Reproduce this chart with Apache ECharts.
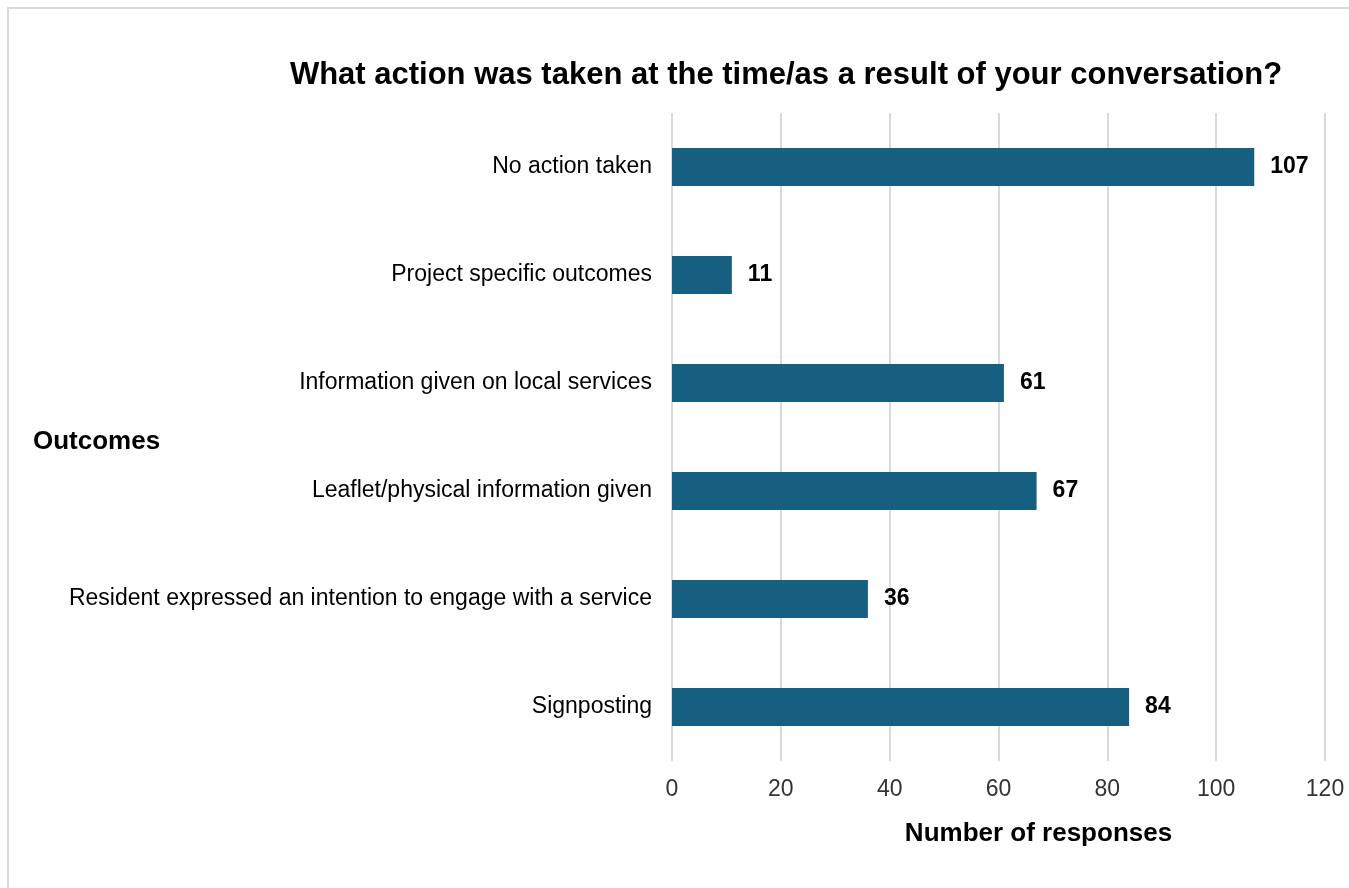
<!DOCTYPE html>
<html>
<head>
<meta charset="utf-8">
<style>
  html, body { margin: 0; padding: 0; background: #ffffff; }
  #chart { width: 1349px; height: 888px; }
</style>
<script src="https://cdn.jsdelivr.net/npm/echarts@6/dist/echarts.min.js"></script>
</head>
<body>
<div id="chart"></div>
<script>
// Outcome categories, top to bottom
const outcomes = [
  'No action taken',
  'Project specific outcomes',
  'Information given on local services',
  'Leaflet/physical information given',
  'Resident expressed an intention to engage with a service',
  'Signposting'
];
// Number of responses per outcome
const responses = [107, 11, 61, 67, 36, 84];

const FONT = '"Liberation Sans", Arial, sans-serif';
const chart = echarts.init(document.getElementById('chart'), null, { renderer: 'canvas' });

chart.setOption({
  backgroundColor: '#ffffff',
  animation: false,
  title: {
    text: 'What action was taken at the time/as a result of your conversation?',
    left: 781,
    textAlign: 'center',
    top: 55,
    textStyle: { fontFamily: FONT, fontSize: 31, fontWeight: 'bold', color: '#000000' }
  },
  graphic: [
    {
      type: 'rect',
      shape: { x: 8, y: 8, width: 1400, height: 1000 },
      style: { fill: 'none', stroke: '#d9d9d9', lineWidth: 2 },
      silent: true
    },
    {
      type: 'text',
      left: 33,
      top: 429,
      style: { text: 'Outcomes', fontFamily: FONT, fontSize: 26, fontWeight: 'bold', fill: '#000000' }
    }
  ],
  grid: { left: 672, right: 24, top: 113, bottom: 127, containLabel: false },
  xAxis: {
    type: 'value',
    min: 0,
    max: 120,
    interval: 20,
    name: 'Number of responses',
    nameLocation: 'middle',
    nameGap: 60,
    nameTextStyle: {
      fontFamily: FONT, fontSize: 26, fontWeight: 'bold', color: '#000000',
      padding: [0, 0, 0, 80]
    },
    axisLine: { show: false },
    axisTick: { show: false },
    axisLabel: { fontFamily: FONT, fontSize: 23, color: '#333333', margin: 17 },
    splitLine: { show: true, lineStyle: { color: '#d9d9d9', width: 2 } }
  },
  yAxis: {
    type: 'category',
    data: outcomes,
    inverse: true,
    axisLine: { show: false },
    axisTick: { show: false },
    axisLabel: { fontFamily: FONT, fontSize: 23, color: '#000000', margin: 20 }
  },
  series: [{
    type: 'bar',
    data: responses,
    barWidth: 38,
    itemStyle: { color: '#175f80' },
    label: {
      show: true,
      position: 'right',
      distance: 16,
      fontFamily: FONT,
      fontSize: 23,
      fontWeight: 'bold',
      color: '#000000'
    }
  }]
});
</script>
</body>
</html>
